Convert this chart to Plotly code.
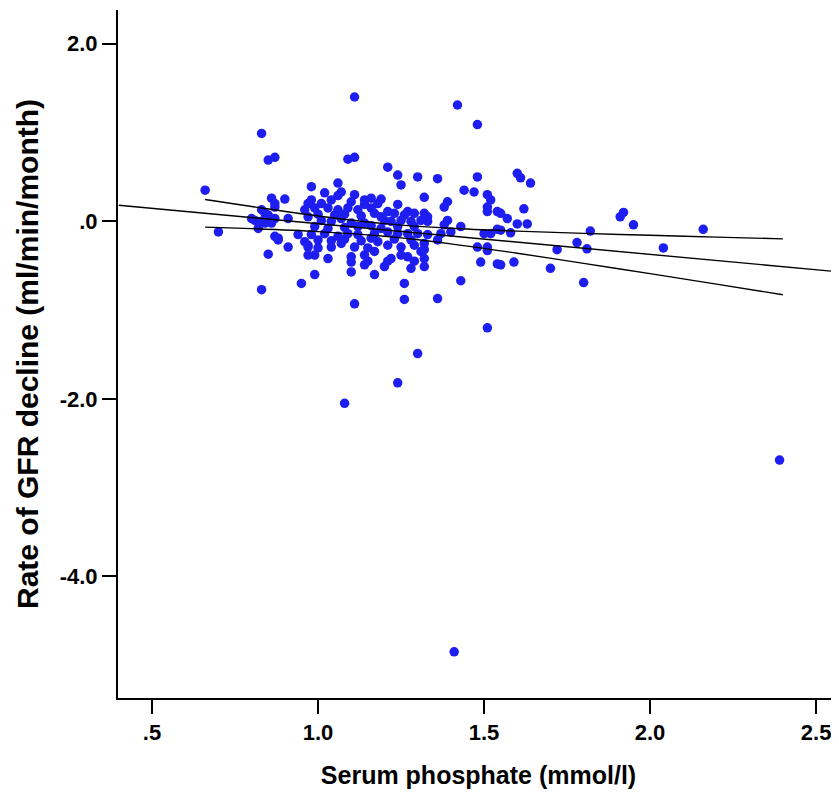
import plotly.graph_objects as go

# Serum phosphate (mmol/l) and rate of GFR decline (ml/min/month)
phosphate = [
    1.11, 1.42, 1.48, 0.83, 0.85, 0.87, 1.09, 1.11, 0.66, 0.70, 0.83, 1.11, 1.51, 1.30, 1.24, 1.08, 2.39, 1.41,
    1.21, 1.24, 1.25, 1.30, 1.36, 1.48, 1.44, 1.47, 1.60, 1.61, 1.64, 1.32, 1.19, 1.38, 1.39, 1.51, 1.52, 1.51,
    1.51, 1.54, 1.55, 1.57, 1.62, 1.60, 1.63, 1.58, 1.54, 1.50, 1.52, 1.48, 1.51, 1.51, 1.43, 1.39, 1.38, 1.40,
    1.37, 1.33, 1.36, 1.49, 1.54, 1.59, 1.70, 1.72, 1.78, 1.26, 1.26, 1.36, 1.43, 1.21, 1.25, 1.27, 1.29, 1.28,
    1.32, 1.32, 1.55, 1.92, 1.91, 1.95, 2.16, 2.04, 1.82, 1.81, 1.80, 1.55,
    1.16, 1.16, 1.17, 1.21, 1.23, 1.26, 1.27, 1.29, 1.32, 1.33, 1.20, 1.22, 1.25, 1.28, 1.31, 1.33,
    1.17, 1.21, 1.24, 1.27, 1.30, 1.18, 1.21, 1.25, 1.29, 1.32, 1.17, 1.22, 1.31, 1.32, 1.20,
    0.98, 1.06, 1.07, 1.11, 1.10, 1.04, 1.01, 0.98, 0.97, 1.14, 0.99, 1.03, 1.06, 1.09, 1.12,
    0.97, 1.01, 1.04, 1.07, 1.10, 1.14, 0.98, 1.02, 1.06, 1.09, 1.12, 0.97, 1.00, 1.04, 1.07, 1.11, 1.15,
    0.99, 1.03, 1.10, 1.14, 1.15, 1.10, 1.10, 1.14,
    0.86, 0.87, 0.87, 0.90, 0.96, 0.83, 0.84, 0.85, 0.87, 0.81, 0.83, 0.84, 0.86, 0.91, 0.87, 0.88, 0.88,
    0.94, 0.91, 0.96, 0.97, 0.97, 0.85, 0.82, 0.80,
    0.95, 0.99, 1.17,
    1.00, 1.05, 1.08, 1.13, 1.19, 0.99, 1.03, 1.08, 1.12, 1.16, 1.19, 1.24, 1.29,
    1.00, 1.04, 1.08, 1.13, 1.16, 1.23, 1.28, 1.14, 1.18, 1.24, 1.06, 1.02,
]
gfr_decline = [
    1.40, 1.31, 1.09, 0.99, 0.69, 0.72, 0.70, 0.72, 0.35, -0.12, -0.77, -0.93, -1.20, -1.49, -1.82, -2.05, -2.69, -4.85,
    0.61, 0.52, 0.41, 0.50, 0.48, 0.50, 0.35, 0.33, 0.54, 0.49, 0.43, 0.27, 0.25, 0.16, 0.22, 0.30, 0.24, 0.16,
    0.11, 0.11, 0.09, 0.03, 0.14, -0.03, -0.03, -0.13, -0.09, -0.14, -0.14, -0.29, -0.29, -0.33, -0.06, 0.01, -0.04, -0.12,
    -0.14, -0.15, -0.21, -0.46, -0.48, -0.46, -0.53, -0.32, -0.24, -0.70, -0.88, -0.87, -0.67, -0.45, -0.38, -0.40, -0.45, -0.53,
    -0.32, -0.51, -0.10, 0.10, 0.05, -0.04, -0.09, -0.30, -0.11, -0.31, -0.69, -0.49,
    0.26, 0.15, 0.09, 0.11, 0.09, 0.07, 0.11, 0.09, 0.09, 0.05, 0.01, 0.00, 0.01, 0.00, 0.01, 0.00,
    -0.14, -0.12, -0.14, -0.14, -0.14, -0.23, -0.27, -0.29, -0.27, -0.25, -0.34, -0.42, -0.34, -0.42, -0.51,
    0.39, 0.43, 0.33, 0.30, 0.22, 0.24, 0.20, 0.24, 0.20, 0.24, 0.15, 0.15, 0.13, 0.15, 0.13,
    0.05, 0.01, 0.00, 0.03, -0.02, -0.02, -0.15, -0.14, -0.17, -0.14, -0.15, -0.27, -0.30, -0.29, -0.25, -0.29, -0.30,
    -0.38, -0.42, -0.40, -0.38, -0.45, -0.46, -0.57, -0.49,
    0.26, 0.20, 0.16, 0.25, 0.13, 0.13, 0.09, 0.07, 0.03, 0.01, 0.00, -0.02, -0.02, 0.03, -0.17, -0.19, -0.21,
    -0.15, -0.29, -0.23, -0.29, -0.38, -0.37, -0.08, 0.03,
    -0.70, -0.60, -0.60,
    0.08, 0.07, 0.08, 0.06, 0.05, -0.06, -0.08, -0.07, -0.06, -0.05, -0.08, -0.06, -0.06,
    -0.21, -0.22, -0.20, -0.22, -0.19, -0.20, -0.21, 0.19, 0.20, 0.19, 0.29, 0.32,
]

# Linear fit line and 95% confidence band of the mean
fit_x = [0.40, 2.57]
fit_y = [0.18, -0.57]
band_x = [0.66, 0.80, 1.00, 1.20, 1.40, 1.60, 1.80, 2.00, 2.20, 2.40]
band_upper = [0.245, 0.166, 0.060, -0.026, -0.079, -0.111, -0.136, -0.158, -0.178, -0.198]
band_lower = [-0.066, -0.083, -0.116, -0.169, -0.254, -0.360, -0.474, -0.590, -0.708, -0.827]

x_tickvals = [0.5, 1.0, 1.5, 2.0, 2.5]
x_ticktext = [".5", "1.0", "1.5", "2.0", "2.5"]
y_tickvals = [2.0, 0.0, -2.0, -4.0]
y_ticktext = ["2.0", ".0", "-2.0", "-4.0"]

FONT = "Liberation Sans, Arial, sans-serif"

fig = go.Figure()
fig.add_trace(go.Scatter(
    x=phosphate, y=gfr_decline, mode="markers",
    marker=dict(size=9.5, color="rgb(30,30,240)", line=dict(width=0)),
    showlegend=False, cliponaxis=False,
))
line_style = dict(color="black", width=1.4)
fig.add_trace(go.Scatter(x=band_x, y=band_upper, mode="lines", line=dict(shape="spline", **line_style), showlegend=False))
fig.add_trace(go.Scatter(x=band_x, y=band_lower, mode="lines", line=dict(shape="spline", **line_style), showlegend=False))
fig.add_trace(go.Scatter(x=fit_x, y=fit_y, mode="lines", line=line_style, showlegend=False))

axis_common = dict(
    showline=True, linecolor="black", linewidth=2, mirror=False,
    ticks="outside", ticklen=14, tickwidth=2, tickcolor="black",
    showgrid=False, zeroline=False,
    tickfont=dict(family=FONT, size=22, color="black", weight="bold"),
)

fig.update_layout(
    width=831, height=786,
    margin=dict(l=110, r=0, t=2, b=96),
    paper_bgcolor="white", plot_bgcolor="white",
    xaxis=dict(
        range=[0.3976, 2.569], tickvals=x_tickvals, ticktext=x_ticktext,
        title=dict(text="Serum phosphate (mmol/l)", font=dict(family=FONT, size=25, color="black", weight="bold"), standoff=22),
        **axis_common,
    ),
    yaxis=dict(
        range=[-5.37, 2.38], tickvals=y_tickvals, ticktext=y_ticktext,
        title=dict(text="Rate of GFR decline (ml/min/month)", font=dict(family=FONT, size=30, color="black", weight="bold"), standoff=12),
        **axis_common,
    ),
)

fig.write_html("out.html")
